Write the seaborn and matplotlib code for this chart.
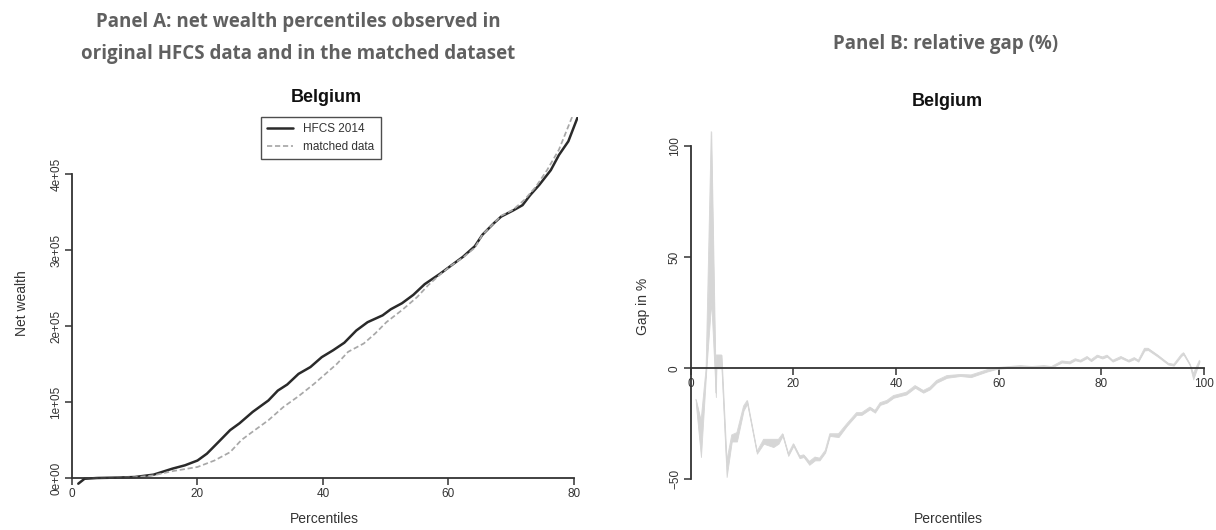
import numpy as np
import pandas as pd
import matplotlib
matplotlib.use("Agg")
import matplotlib.pyplot as plt
import seaborn as sns

# ---- Panel A: net wealth percentiles (EUR) ----
pct_hfcs = [1, 2, 4, 7, 10, 13, 16, 18, 20, 21.5, 23.3, 25.2, 26.7, 28.8, 31.3,
            32.8, 34.3, 36.1, 38, 39.8, 41.6, 43.4, 45.3, 47.1, 49.5, 50.8, 52.6,
            54.4, 56.2, 58.7, 60.5, 62.3, 64.2, 65.4, 67.2, 68.4, 70.3, 71.8, 73,
            74.5, 76.3, 77.6, 79.1, 80.6, 81.2]
wealth_hfcs = [-7500, -1000, 0, 500, 1300, 4400, 12300, 16700, 23000, 32000,
               47000, 63000, 72000, 87000, 102000, 115000, 123000, 137000, 146000,
               159000, 168000, 178000, 194000, 205000, 214000, 222000, 230000,
               241000, 255000, 269000, 280000, 291000, 305000, 320000, 335000,
               344000, 352000, 359000, 372000, 386000, 405000, 425000, 443000,
               475000, 490000]

pct_matched = [2, 4, 7, 10, 13, 16, 20, 22.7, 25.2, 27, 28.8, 31.3, 33.7, 36.1,
               38.6, 40.4, 42.2, 44, 46.5, 48.3, 50.1, 52.6, 55, 56.8, 58.7, 60.5,
               62.3, 64.2, 65.4, 67.2, 68.4, 70.3, 72.1, 73.9, 75.7, 77.6, 79.7, 80.5]
wealth_matched = [0, 0, 300, 900, 3500, 9000, 14500, 23000, 34000, 50000, 61000,
                  76000, 93500, 107600, 124000, 137000, 150000, 166000, 177000,
                  190000, 205000, 221000, 238000, 254000, 268000, 280000, 290000,
                  303000, 320000, 335000, 345000, 353000, 366000, 383000, 405000,
                  432000, 475000, 490000]

wealth_ticks = [0, 100000, 200000, 300000, 400000]
wealth_ticklabels = ["0e+00", "1e+05", "2e+05", "3e+05", "4e+05"]
pct_ticks_a = [0, 20, 40, 60, 80]

# ---- Panel B: relative gap (%) band ----
pct_gap = [1, 2, 3, 4, 4.9, 5.0, 6.0, 7, 8, 9, 10.3, 11, 12.9, 14.2, 16.1, 17.1,
           17.9, 19, 20, 21.2, 22, 23.1, 24.2, 25.1, 26.2, 27.1, 28.8, 30.4, 32.3,
           33.3, 34.9, 35.9, 36.9, 38.2, 39.5, 42, 43.7, 45.3, 46.6, 47.9, 49.9,
           52.5, 54.6, 57.7, 59.6, 64.2, 66.5, 68.8, 70.3, 72.3, 73.8, 74.9, 75.9,
           77.2, 78, 79.2, 80.2, 81.1, 82.2, 83.8, 85.3, 86.4, 87.2, 88.4, 89.1,
           91, 93, 94.1, 95.6, 96, 97.2, 97.9, 99.1]
gap_upper = [-14, -24, 0, 106.6, -11, 6, 6, -42, -30, -29, -17, -14.5, -37.5, -32,
             -32, -32, -29.5, -38.5, -34, -39.5, -39, -42, -40, -40.5, -37, -29.5,
             -29.5, -25, -20, -20, -17.5, -19, -15.5, -14.5, -12.3, -10.8, -7.8,
             -10, -8.5, -5.5, -3.3, -2.8, -3, -0.7, 0.3, 1.2, 0.8, 1.2, 0.8, 3.3,
             2.9, 4.3, 3.6, 5.3, 3.9, 5.9, 5.1, 5.9, 3.6, 5.3, 3.6, 4.8, 3.6, 9.0,
             9.0, 5.9, 2.3, 1.8, 6.3, 7.0, 2.1, -2.5, 3.6]
gap_lower = [-16, -40, -2, 30, -13, 0, 0, -49, -33, -33, -19, -16, -38.5, -34,
             -35.5, -34, -30.5, -39.5, -35, -40.5, -40, -43.5, -41.5, -41.5, -38,
             -30.5, -31, -26, -21, -21, -18.5, -20, -16.5, -15.5, -13.3, -11.8,
             -8.8, -11, -9.5, -6.5, -4.3, -3.5, -4, -1.5, -0.3, 0.6, 0.3, 0.6, 0.3,
             2.6, 2.2, 3.6, 3.0, 4.6, 3.2, 5.2, 4.4, 5.2, 3.0, 4.6, 3.0, 4.1, 3.0,
             8.0, 8.2, 5.2, 1.7, 1.2, 5.6, 6.2, 1.5, -5, 2.8]

gap_ticks = [-50, 0, 50, 100]
pct_ticks_b = [0, 20, 40, 60, 80, 100]

country = "Belgium"

# ---- style ----
sns.set_theme(style="white")
plt.rcParams["font.family"] = ["Liberation Sans", "DejaVu Sans"]
AX_COL = "#333333"
TITLE_COL = "#606060"
BAND_COL = "#d6d6d6"

W, H = 1216, 530
fig = plt.figure(figsize=(W / 100, H / 100), dpi=100)


def px_axes(x0, x1, y0, y1):
    """Create axes from pixel bounds (top-left origin)."""
    return fig.add_axes([x0 / W, 1 - y1 / H, (x1 - x0) / W, (y1 - y0) / H])


def r_style(ax, xb, yb):
    for s in ("top", "right"):
        ax.spines[s].set_visible(False)
    ax.spines["left"].set_position(("data", 0))
    ax.spines["bottom"].set_position(("data", 0))
    ax.spines["left"].set_bounds(*yb)
    ax.spines["bottom"].set_bounds(*xb)
    for s in ("left", "bottom"):
        ax.spines[s].set_color(AX_COL)
        ax.spines[s].set_linewidth(1.3)
    ax.tick_params(axis="both", direction="out", length=5, width=1.1,
                   color=AX_COL, labelcolor=AX_COL, labelsize=8.5, pad=2,
                   bottom=True, left=True)
    ax.tick_params(axis="y", labelrotation=90)
    for lab in ax.get_yticklabels():
        lab.set_va("center")
    ax.set_xlabel("")
    ax.set_ylabel("")
    ax.patch.set_alpha(0)


# ---- Panel A ----
axA = px_axes(72, 578, 117, 490)
df_h = pd.DataFrame({"pct": pct_hfcs, "wealth": wealth_hfcs})
df_m = pd.DataFrame({"pct": pct_matched, "wealth": wealth_matched})
sns.lineplot(data=df_h, x="pct", y="wealth", ax=axA, color="#2a2a2a", lw=1.8,
             estimator=None, sort=False, label="HFCS 2014")
sns.lineplot(data=df_m, x="pct", y="wealth", ax=axA, color="#a8a8a8", lw=1.25,
             estimator=None, sort=False, label="matched data",
             dashes=False, linestyle=(0, (3, 1.6)))
axA.set_xlim(0, 80.64)
axA.set_ylim(-15789, 475000)
axA.set_xticks(pct_ticks_a)
axA.set_yticks(wealth_ticks, wealth_ticklabels)
r_style(axA, (0, 80), (0, 400000))

leg = axA.legend(loc="upper left", bbox_to_anchor=(261 / W, 1 - 117 / H),
                 bbox_transform=fig.transFigure, borderaxespad=0, fontsize=8.5,
                 frameon=True, fancybox=False, handlelength=2.2,
                 handletextpad=0.8, borderpad=0.55, labelspacing=0.45)
leg.get_frame().set_edgecolor("#222222")
leg.get_frame().set_linewidth(1.0)
for t in leg.get_texts():
    t.set_color(AX_COL)

# ---- Panel B ----
axB = px_axes(690.7, 1210, 125, 485)
gx = np.array(pct_gap)
axB.fill_between(gx, gap_lower, gap_upper, color=BAND_COL, lw=0.6,
                 edgecolor=BAND_COL)
sns.lineplot(x=gx, y=gap_upper, ax=axB, color=BAND_COL, lw=0.6,
             estimator=None, sort=False)
axB.set_xlim(0, 101.17)
axB.set_ylim(-52.6, 109.6)
axB.set_xticks(pct_ticks_b)
axB.set_yticks(gap_ticks)
r_style(axB, (0, 100), (-50, 100))

# ---- titles and axis labels ----
def ftext(x, y, s, **kw):
    fig.text(x / W, 1 - y / H, s, ha="center", va="center", **kw)

tfont = dict(family=["Open Sans", "DejaVu Sans"], fontsize=13.5,
             fontweight="bold", color=TITLE_COL)
ftext(298, 22, "Panel A: net wealth percentiles observed in", **tfont)
ftext(298, 54, "original HFCS data and in the matched dataset", **tfont)
ftext(946, 44, "Panel B: relative gap (%)", **tfont)

ftext(326, 98, country, fontsize=13, fontweight="bold", color="#111111")
ftext(947, 101, country, fontsize=13, fontweight="bold", color="#111111")

ftext(22, 303, "Net wealth", rotation=90, fontsize=10, color=AX_COL)
ftext(643, 306, "Gap in %", rotation=90, fontsize=10, color=AX_COL)
ftext(324, 519, "Percentiles", fontsize=10, color=AX_COL)
ftext(948, 519, "Percentiles", fontsize=10, color=AX_COL)

fig.savefig("out.png", dpi=100)
